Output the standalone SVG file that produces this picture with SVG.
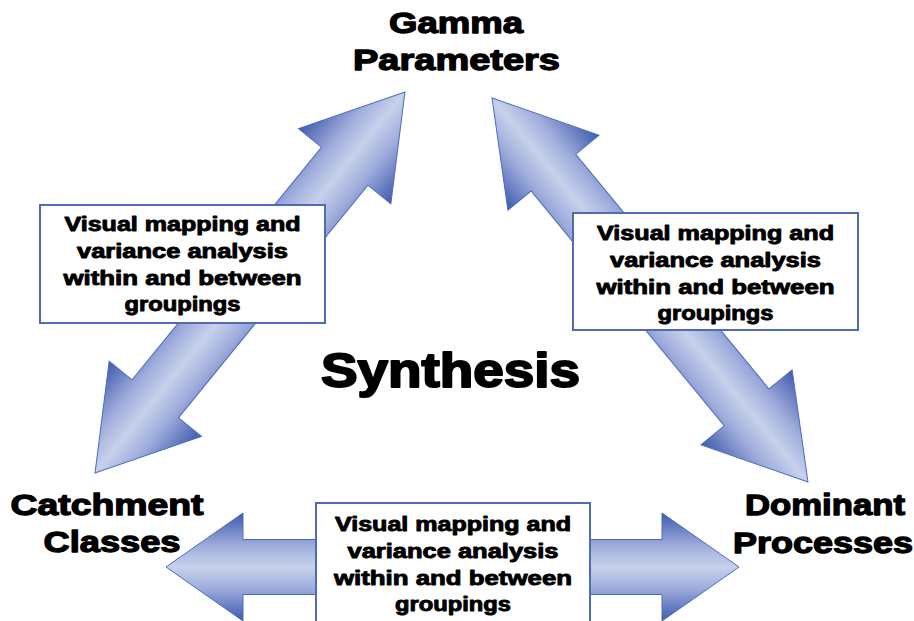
<svg xmlns="http://www.w3.org/2000/svg" width="914" height="621" viewBox="0 0 914 621">
  <defs>
    <linearGradient id="gArrow" x1="0" y1="0" x2="0" y2="1">
      <stop offset="0" stop-color="#3f5aae"/>
      <stop offset="0.3" stop-color="#9eacdb"/>
      <stop offset="0.5" stop-color="#c7d1eb"/>
      <stop offset="0.7" stop-color="#9eacdb"/>
      <stop offset="1" stop-color="#3f5aae"/>
    </linearGradient>
    <linearGradient id="gBottom" gradientUnits="userSpaceOnUse" x1="0" y1="513" x2="0" y2="621">
      <stop offset="0" stop-color="#3f5aae"/>
      <stop offset="0.3" stop-color="#9eacdb"/>
      <stop offset="0.5" stop-color="#c7d1eb"/>
      <stop offset="0.7" stop-color="#9eacdb"/>
      <stop offset="1" stop-color="#3f5aae"/>
    </linearGradient>
  </defs>
  <style>
    .arrow { stroke: #4a6cc0; stroke-width: 1; }
    .box { fill: #ffffff; stroke: #4f6bb3; stroke-width: 2; }
    .t { font-family: "Liberation Sans", Arial, sans-serif; font-weight: bold; fill: #000; stroke: #000; stroke-linejoin: round; text-anchor: middle; }
    .small { font-size: 20px; stroke-width: 0.9; }
    .big { font-size: 30px; stroke-width: 1.3; }
    .huge { font-size: 48px; stroke-width: 2; }
  </style>
  <rect x="0" y="0" width="914" height="621" fill="#ffffff"/>

  <g id="connectors">
    <path class="arrow" fill="url(#gArrow)" transform="translate(250 282.5) rotate(-50.86)"
      d="M -245.5 0 L -150 -59.5 L -150 -30 L 150 -30 L 150 -59.5 L 245.5 0 L 150 59.5 L 150 30 L -150 30 L -150 59.5 Z"/>
    <path class="arrow" fill="url(#gArrow)" transform="translate(650 290) rotate(50.55)"
      d="M -248.6 0 L -152 -59 L -152 -29 L 152 -29 L 152 -59 L 248.6 0 L 152 59 L 152 29 L -152 29 L -152 59 Z"/>
    <path class="arrow" fill="url(#gBottom)"
      d="M 166 567 L 243 513 L 243 539.5 L 662 539.5 L 662 513 L 739 567 L 662 621 L 662 594.5 L 243 594.5 L 243 621 Z"/>
  </g>

  <g id="box-left">
    <rect class="box" x="40" y="205" width="285" height="118"/>
    <text class="t small" x="182.5" y="231" textLength="236" lengthAdjust="spacingAndGlyphs">Visual mapping and</text>
    <text class="t small" x="182.5" y="258" textLength="211" lengthAdjust="spacingAndGlyphs">variance analysis</text>
    <text class="t small" x="182.5" y="285" textLength="238" lengthAdjust="spacingAndGlyphs">within and between</text>
    <text class="t small" x="182.5" y="311" textLength="116" lengthAdjust="spacingAndGlyphs">groupings</text>
  </g>

  <g id="box-right">
    <rect class="box" x="573" y="213" width="285" height="117"/>
    <text class="t small" x="715.5" y="240" textLength="237" lengthAdjust="spacingAndGlyphs">Visual mapping and</text>
    <text class="t small" x="715.5" y="267" textLength="211" lengthAdjust="spacingAndGlyphs">variance analysis</text>
    <text class="t small" x="715.5" y="294" textLength="238" lengthAdjust="spacingAndGlyphs">within and between</text>
    <text class="t small" x="715.5" y="320" textLength="116" lengthAdjust="spacingAndGlyphs">groupings</text>
  </g>

  <g id="box-bottom">
    <rect class="box" x="316" y="503" width="274" height="125"/>
    <text class="t small" x="453" y="531" textLength="236" lengthAdjust="spacingAndGlyphs">Visual mapping and</text>
    <text class="t small" x="453" y="558" textLength="211" lengthAdjust="spacingAndGlyphs">variance analysis</text>
    <text class="t small" x="453" y="585" textLength="238" lengthAdjust="spacingAndGlyphs">within and between</text>
    <text class="t small" x="453" y="611" textLength="116" lengthAdjust="spacingAndGlyphs">groupings</text>
  </g>

  <g id="node-gamma">
    <text class="t big" x="456" y="33" textLength="134" lengthAdjust="spacingAndGlyphs">Gamma</text>
    <text class="t big" x="456.5" y="70" textLength="207" lengthAdjust="spacingAndGlyphs">Parameters</text>
  </g>

  <g id="node-catchment">
    <text class="t big" x="107" y="515" textLength="193" lengthAdjust="spacingAndGlyphs">Catchment</text>
    <text class="t big" x="112" y="552" textLength="137" lengthAdjust="spacingAndGlyphs">Classes</text>
  </g>

  <g id="node-dominant">
    <text class="t big" x="825" y="515" textLength="160" lengthAdjust="spacingAndGlyphs">Dominant</text>
    <text class="t big" x="823" y="553" textLength="180" lengthAdjust="spacingAndGlyphs">Processes</text>
  </g>

  <g id="node-synthesis">
    <text class="t huge" x="450.5" y="387" textLength="259" lengthAdjust="spacingAndGlyphs">Synthesis</text>
  </g>
</svg>
